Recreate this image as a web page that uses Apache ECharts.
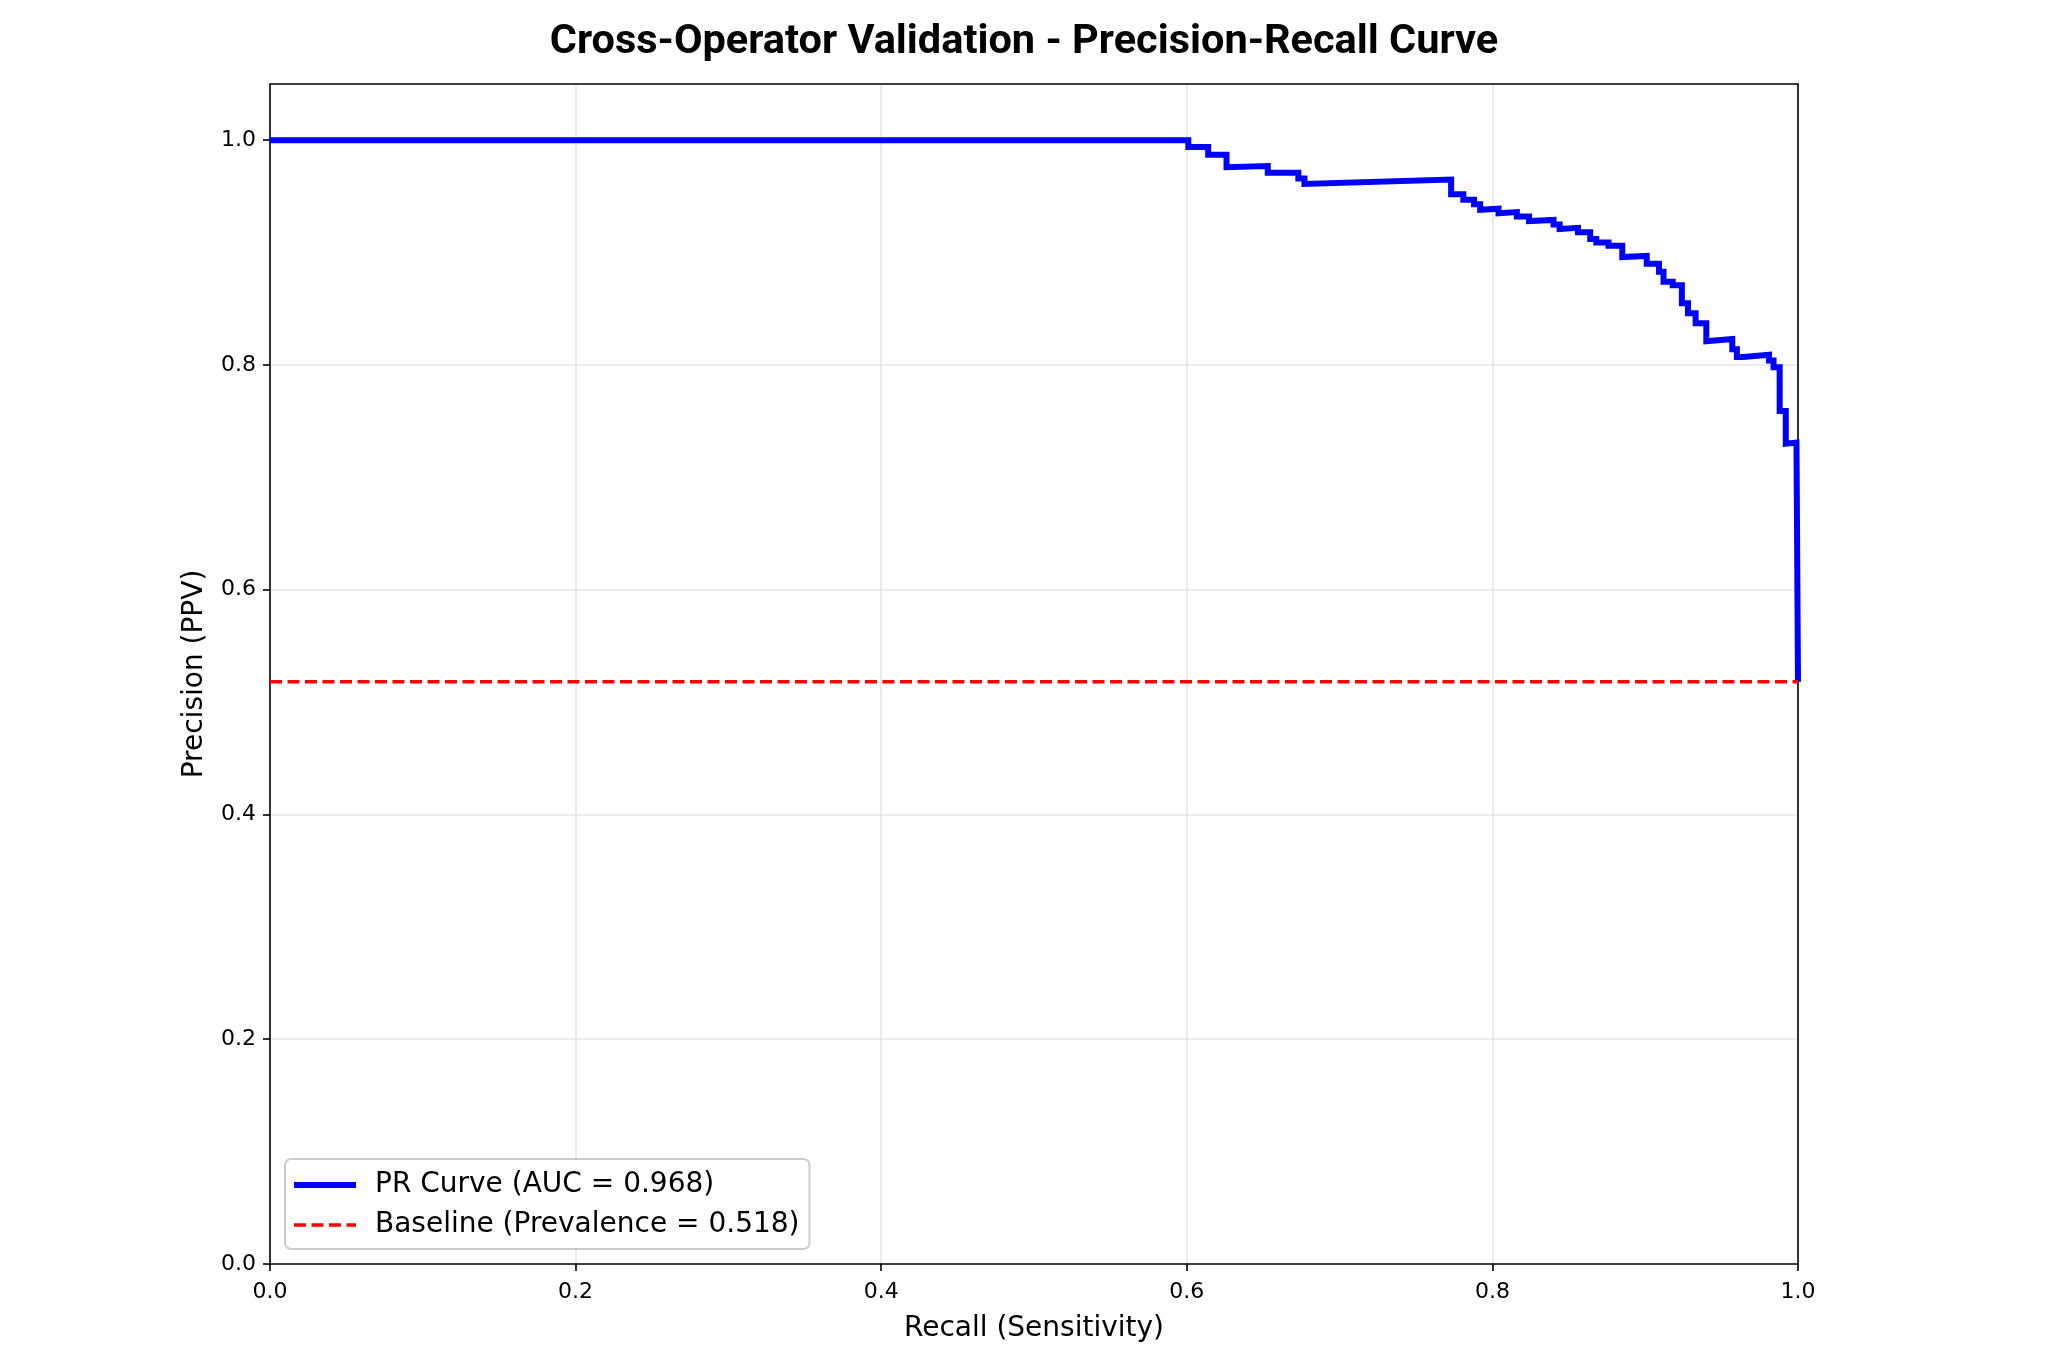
<!DOCTYPE html>
<html>
<head>
<meta charset="utf-8">
<title>Cross-Operator Validation - Precision-Recall Curve</title>
<script src="https://cdn.jsdelivr.net/npm/echarts@6/dist/echarts.min.js"></script>
<style>
  html, body { margin: 0; padding: 0; background: #fff; }
  #chart { width: 2048px; height: 1360px; }
</style>
</head>
<body>
<div id="chart"></div>
<script>
// PR curve points (recall, precision)
const recall = [
  0, 0.601, 0.601, 0.614, 0.614, 0.626, 0.626, 0.653, 0.653, 0.673,
  0.673, 0.677, 0.677, 0.773, 0.773, 0.781, 0.781, 0.788, 0.788, 0.792,
  0.792, 0.804, 0.804, 0.816, 0.816, 0.824, 0.824, 0.840, 0.840, 0.844,
  0.844, 0.856, 0.856, 0.864, 0.864, 0.868, 0.868, 0.876, 0.876, 0.885,
  0.885, 0.901, 0.901, 0.909, 0.909, 0.912, 0.912, 0.918, 0.918, 0.924,
  0.924, 0.928, 0.928, 0.933, 0.933, 0.940, 0.940, 0.957, 0.957, 0.960,
  0.960, 0.964, 0.964, 0.981, 0.981, 0.984, 0.984, 0.988, 0.988, 0.992,
  0.992, 0.999, 1.0, 1.0
];
const precision = [
  1, 1, 0.994, 0.994, 0.987, 0.987, 0.976, 0.977, 0.971, 0.971,
  0.966, 0.966, 0.961, 0.965, 0.952, 0.952, 0.947, 0.947, 0.943, 0.943,
  0.938, 0.939, 0.935, 0.936, 0.932, 0.932, 0.928, 0.929, 0.925, 0.925,
  0.921, 0.922, 0.918, 0.918, 0.912, 0.912, 0.909, 0.909, 0.906, 0.906,
  0.896, 0.897, 0.890, 0.890, 0.883, 0.883, 0.874, 0.874, 0.871, 0.871,
  0.855, 0.855, 0.846, 0.846, 0.837, 0.837, 0.821, 0.823, 0.814, 0.814,
  0.807, 0.807, 0.806, 0.809, 0.804, 0.804, 0.798, 0.798, 0.759, 0.759,
  0.730, 0.731, 0.731, 0.518
];
const auc = 0.968;
const prevalence = 0.518;

const xTicks = [0, 0.2, 0.4, 0.6, 0.8, 1.0];
const yTicks = [0, 0.2, 0.4, 0.6, 0.8, 1.0];

const prName = 'PR Curve (AUC = ' + auc.toFixed(3) + ')';
const baseName = 'Baseline (Prevalence = ' + prevalence.toFixed(3) + ')';

const chart = echarts.init(document.getElementById('chart'), null, { renderer: 'canvas' });

const axisFont = 'DejaVu Sans';
const gridColor = '#e6e6e6';

// plain spine on the top / right sides, like a matplotlib frame
const spine = (pos) => ({
  type: 'value',
  position: pos,
  min: 0,
  max: pos === 'top' ? 1 : 1.05,
  axisLine: { show: true, onZero: false, lineStyle: { color: '#000', width: 1.6 } },
  axisTick: { show: false },
  axisLabel: { show: false },
  splitLine: { show: false }
});

const option = {
  animation: false,
  backgroundColor: '#ffffff',
  title: {
    text: 'Cross-Operator Validation - Precision-Recall Curve',
    left: 'center',
    top: 17,
    textStyle: {
      fontFamily: 'Roboto',
      fontWeight: 'bold',
      fontSize: 41.5,
      color: '#000'
    }
  },
  grid: {
    left: 270,
    top: 84,
    width: 1528,
    height: 1180,
    show: false
  },
  legend: {
    orient: 'vertical',
    left: 285,
    top: 1159,
    padding: [11, 10, 9, 6],
    itemGap: 10,
    itemWidth: 62,
    itemHeight: 14,
    backgroundColor: 'rgba(255,255,255,0.8)',
    borderColor: '#cccccc',
    borderWidth: 2,
    borderRadius: 6,
    itemStyle: { opacity: 0 },
    textStyle: {
      fontFamily: axisFont,
      fontSize: 28,
      lineHeight: 30,
      color: '#000',
      padding: [0, 0, 0, 14]
    },
    data: [
      { name: prName, lineStyle: { color: '#0000ff', width: 6 } },
      { name: baseName, lineStyle: { color: '#ff0000', width: 3.5, type: [12, 5.5] } }
    ]
  },
  xAxis: [
    {
      type: 'value',
      min: 0,
      max: 1,
      interval: 0.2,
      name: 'Recall (Sensitivity)',
      nameLocation: 'middle',
      nameGap: 51,
      nameTextStyle: { fontFamily: axisFont, fontSize: 28, color: '#000' },
      axisLine: { onZero: false, lineStyle: { color: '#000', width: 1.6 } },
      axisTick: { show: true, length: 7, lineStyle: { color: '#000', width: 1.6 }, customValues: xTicks },
      axisLabel: {
        fontFamily: axisFont, fontSize: 22, color: '#000', margin: 17,
        customValues: xTicks,
        formatter: v => v.toFixed(1)
      },
      splitLine: { show: true, showMaxLine: false, showMinLine: false, lineStyle: { color: gridColor, width: 1.6 } }
    },
    spine('top')
  ],
  yAxis: [
    {
      type: 'value',
      min: 0,
      max: 1.05,
      interval: 0.2,
      name: 'Precision (PPV)',
      nameLocation: 'middle',
      nameGap: 61,
      nameTextStyle: { fontFamily: axisFont, fontSize: 28, color: '#000' },
      axisLine: { onZero: false, lineStyle: { color: '#000', width: 1.6 } },
      axisTick: { show: true, length: 7, lineStyle: { color: '#000', width: 1.6 }, customValues: yTicks },
      axisLabel: {
        fontFamily: axisFont, fontSize: 22, color: '#000', margin: 14,
        customValues: yTicks,
        formatter: v => v.toFixed(1)
      },
      splitLine: { show: true, showMaxLine: false, showMinLine: false, lineStyle: { color: gridColor, width: 1.6 } }
    },
    spine('right')
  ],
  series: [
    {
      name: prName,
      type: 'line',
      symbol: 'none',
      data: recall.map((r, i) => [r, precision[i]]),
      lineStyle: { color: '#0000ff', width: 6, join: 'miter' },
      itemStyle: { color: '#0000ff' },
      z: 3
    },
    {
      name: baseName,
      type: 'line',
      symbol: 'none',
      data: [[0, prevalence], [1, prevalence]],
      lineStyle: { color: '#ff0000', width: 3.5, type: [12, 5.5] },
      itemStyle: { color: '#ff0000' },
      z: 4
    }
  ]
};

chart.setOption(option);
</script>
</body>
</html>
